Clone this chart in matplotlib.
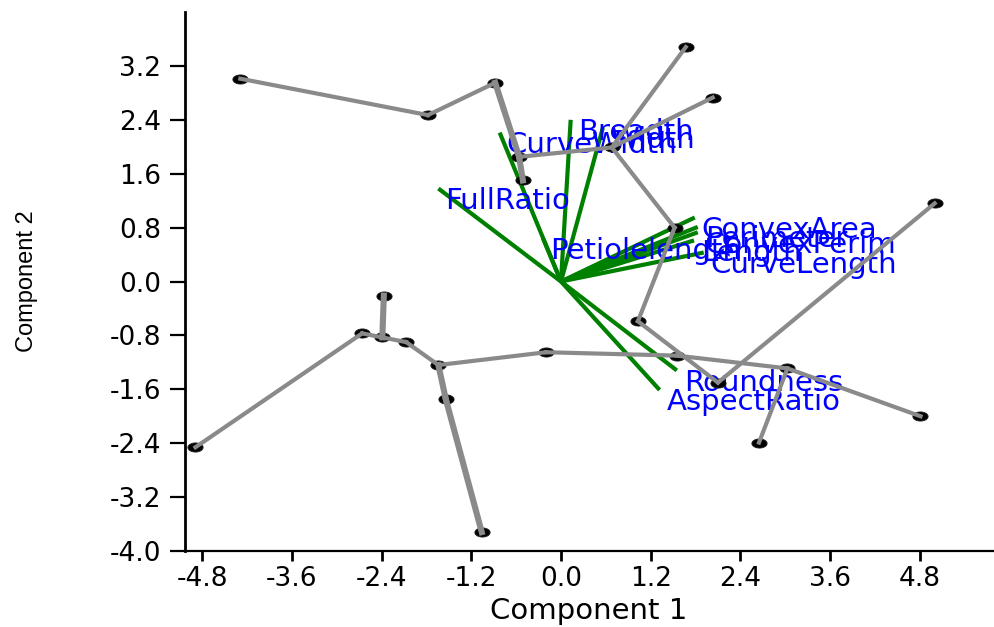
import numpy as np
import matplotlib.pyplot as plt

#-------------------------------
#         scores on the first two components
#-------------------------------
pc1 = [-4.29, -1.78, -0.88, -0.56, -0.51, 0.68, 1.67, 2.03, 1.52, 1.03,
       1.55, 2.10, 3.03, 2.65, 4.81, 5.00, -0.20, -1.64, -1.54, -1.06,
       -2.07, -2.39, -2.37, -2.66, -4.89]
pc2 = [3.01, 2.47, 2.95, 1.85, 1.50, 1.99, 3.48, 2.73, 0.80, -0.59,
       -1.10, -1.50, -1.29, -2.39, -2.00, 1.16, -1.05, -1.24, -1.75, -3.72,
       -0.90, -0.83, -0.21, -0.77, -2.46]

# minimum spanning tree, pairs of point indices
tree_edges = [(0, 1), (1, 2), (3, 5), (5, 6), (5, 7), (5, 8), (8, 9), (9, 11),
              (11, 15), (16, 10), (10, 12), (12, 14), (12, 13),
              (24, 23), (23, 21), (21, 20), (20, 17), (17, 16)]
tree_edges_heavy = [(2, 3), (3, 4), (21, 22), (17, 18), (18, 19)]

#-------------------------------
#         loadings (biplot vectors)
#-------------------------------
var_names = ["FullRatio", "CurveWidth", "Breadth", "Width", "Petiolelength",
             "ConvexArea", "Perimeter", "ConvexPerim", "Length", "CurveLength",
             "Roundness", "AspectRatio"]
load1 = [-1.64, -0.82, 0.13, 0.56, -0.24, 1.79, 1.83, 1.83, 1.78, 1.91, 1.55, 1.32]
load2 = [1.38, 2.21, 2.40, 2.28, 0.64, 0.95, 0.81, 0.73, 0.61, 0.43, -1.32, -1.61]

xticks = [-4.8, -3.6, -2.4, -1.2, 0.0, 1.2, 2.4, 3.6, 4.8]
yticks = [-4.0, -3.2, -2.4, -1.6, -0.8, 0.0, 0.8, 1.6, 2.4, 3.2]

plt.rcParams['axes.unicode_minus'] = False
plt.rcParams['font.family'] = ['DejaVu Sans']

fig = plt.figure(figsize=(9.95, 6.27), dpi=100)
ax = fig.add_axes([185/995, 1 - 551/627, (993 - 185)/995, (551 - 12)/627])

# vectors
for i in range(len(var_names)):
    ax.plot([0, load1[i]], [0, load2[i]], color='#008000', lw=3.0,
            solid_capstyle='butt', zorder=2)
    ax.annotate(var_names[i], (load1[i], load2[i]), xytext=(5, -9),
                textcoords='offset points', ha='left', va='center',
                color='#0000ff', fontsize=21, zorder=3)

# points
t = np.linspace(0, 2*np.pi, 40)
ell = np.column_stack([np.cos(t), 0.6*np.sin(t)])
ax.plot(pc1, pc2, ls='none', marker=ell, ms=11, mfc='black', mec='#222222',
        mew=0.6, zorder=4)

# tree
for a, b in tree_edges:
    ax.plot([pc1[a], pc1[b]], [pc2[a], pc2[b]], color='#8a8a8a', lw=3.0,
            zorder=5)
for a, b in tree_edges_heavy:
    ax.plot([pc1[a], pc1[b]], [pc2[a], pc2[b]], color='#8a8a8a', lw=4.4,
            zorder=5)

ax.set_xlim(-5.03, 5.78)
ax.set_ylim(-4.0, 4.0)
ax.set_xticks(xticks)
ax.set_xticklabels(['%.1f' % v for v in xticks])
ax.set_yticks(yticks)
ax.set_yticklabels(['%.1f' % v for v in yticks])
ax.spines['top'].set_visible(False)
ax.spines['right'].set_visible(False)
ax.spines['left'].set_linewidth(2.0)
ax.spines['bottom'].set_linewidth(1.6)
ax.tick_params(axis='x', direction='out', length=7, width=2, pad=4, labelsize=19)
ax.tick_params(axis='y', direction='out', length=11, width=1.6, pad=6, labelsize=19)

ax.set_xlabel('Component 1', fontsize=21, va='center')
ax.xaxis.set_label_coords(0.5, -0.111)
ax.set_ylabel('Component 2', fontsize=17, va='center', family='Liberation Sans')
ax.yaxis.set_label_coords(-0.196, 0.5)

plt.savefig('out.png', dpi=100)
